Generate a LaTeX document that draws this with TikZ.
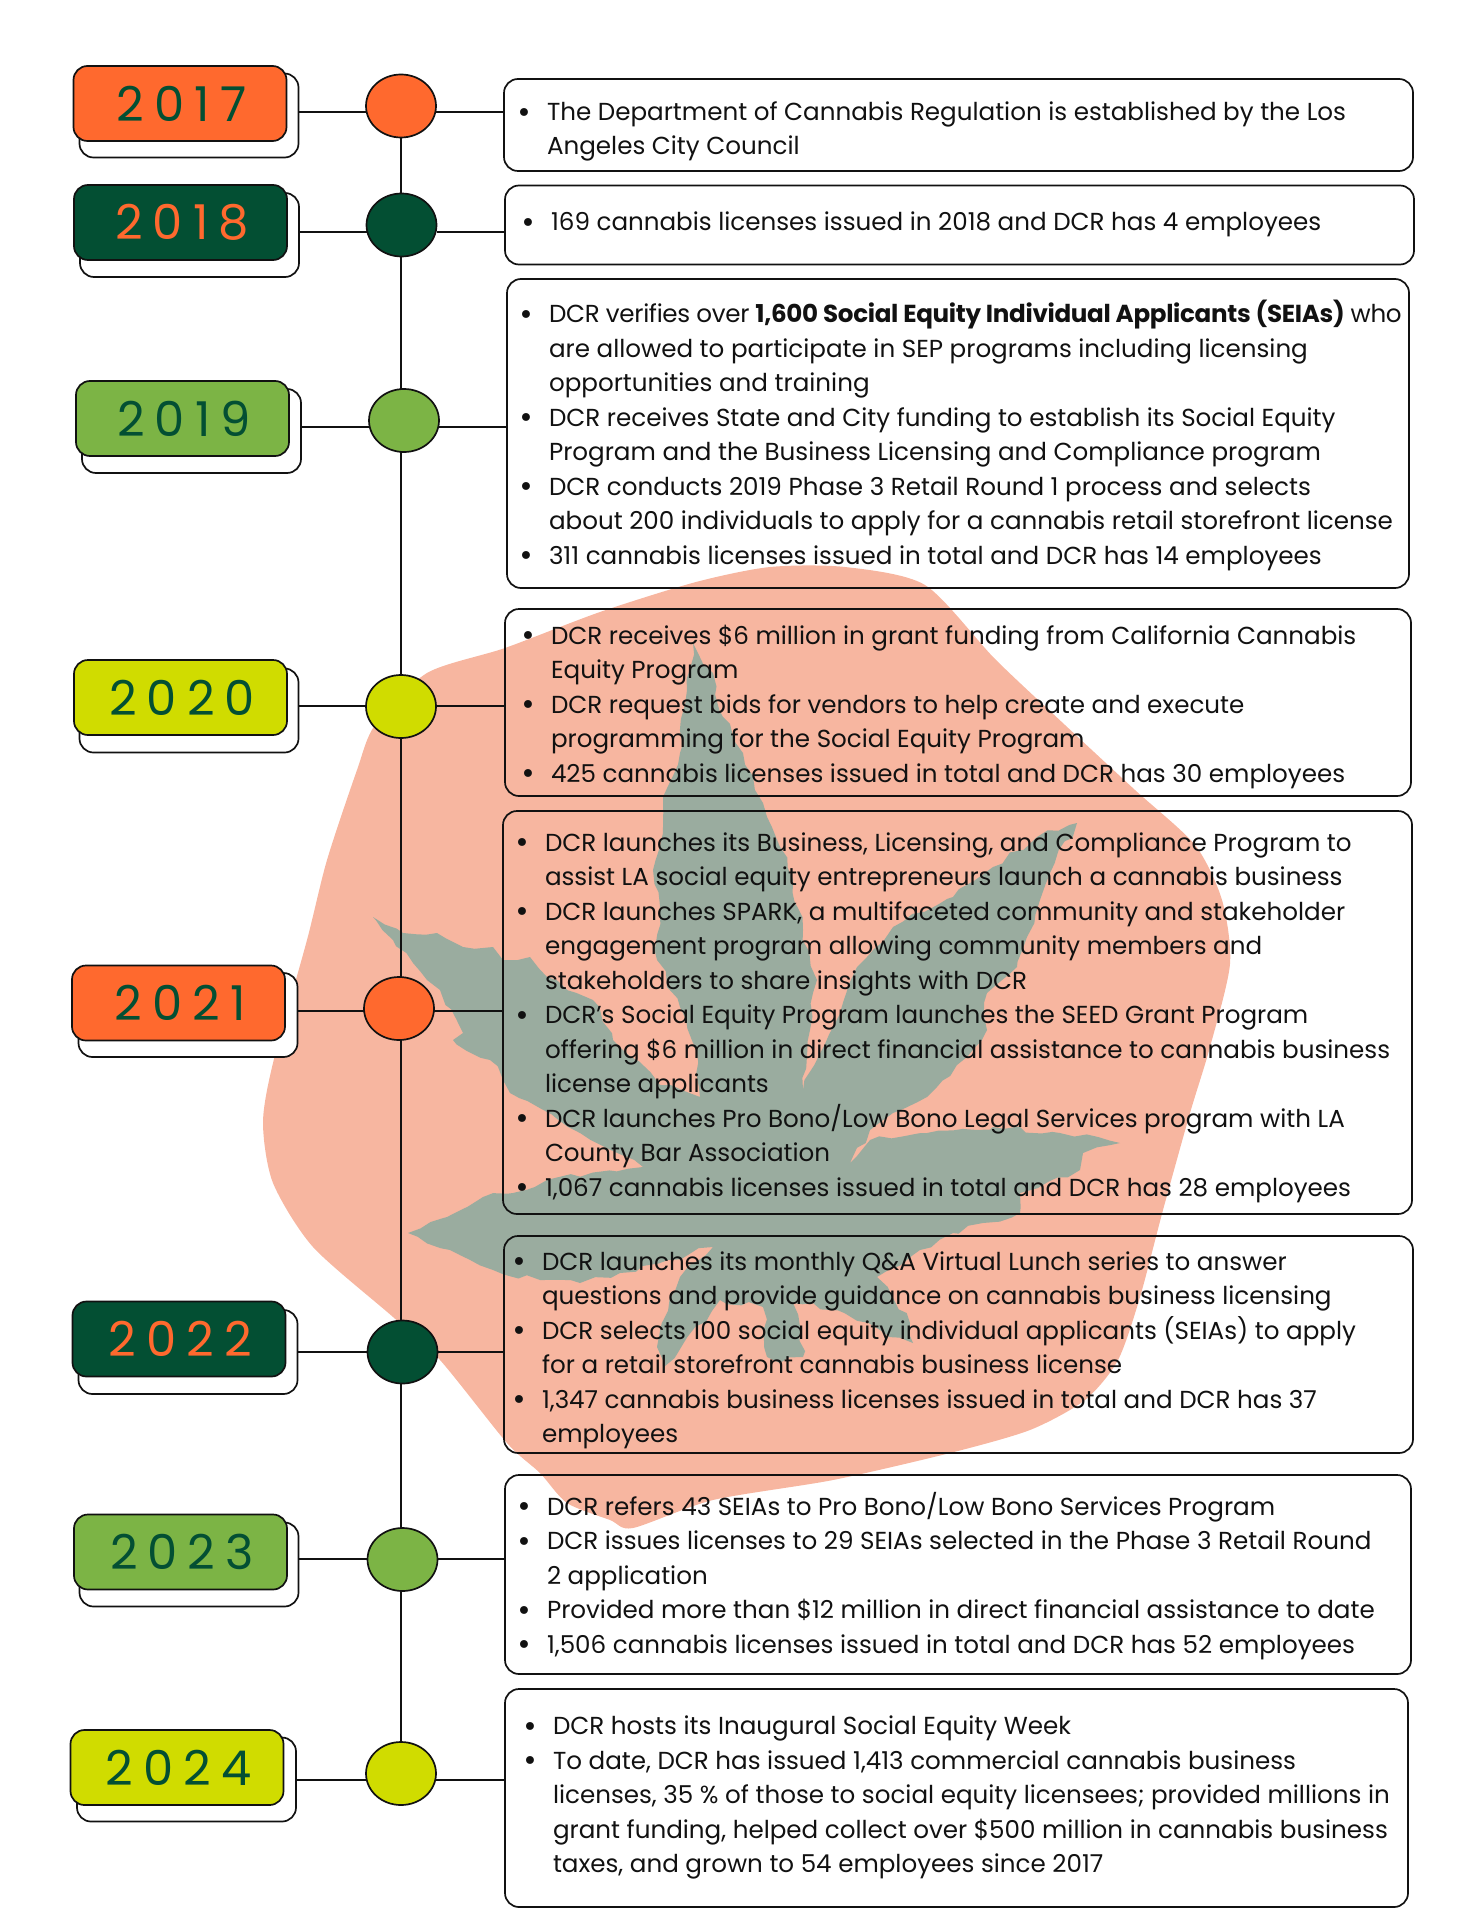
\documentclass[tikz,border=0pt]{standalone}
\usepackage{fontspec}
\usepackage{xcolor}
\usetikzlibrary{shapes.geometric,decorations.pathmorphing}
\setmainfont{Poppins}
\newfontfamily\yearfont[LetterSpace=21]{Poppins}
\newfontfamily\bulletfont{DejaVu Sans}
\definecolor{dcrorange}{HTML}{FF692E}
\definecolor{dcrdark}{HTML}{034F33}
\definecolor{dcrgreen}{HTML}{7CB445}
\definecolor{dcrlime}{HTML}{D0DC00}
\definecolor{dcrblob}{HTML}{F7B6A0}
\definecolor{dcrleaf}{HTML}{9AAC9F}
\definecolor{dcrink}{HTML}{111111}
\newcommand{\blt}{\rule{0pt}{10pt}\llap{\raisebox{-0.8pt}{\bulletfont\fontsize{13.5}{13.5}\selectfont •}\hspace{7.5pt}}}
\tikzset{
  yeartag/.style={draw=dcrink, line width=0.85pt, rounded corners=7pt, inner sep=0pt, outer sep=0pt,
    minimum width=106.5pt, minimum height=37.5pt, font=\yearfont\fontsize{24}{24}\selectfont,
    execute at begin node=\hspace{1.5pt}},
  yearback/.style={draw=dcrink, line width=0.85pt, fill=white, rounded corners=7pt, inner sep=0pt, outer sep=0pt,
    minimum width=109.5pt, minimum height=42pt},
  yeardot/.style={draw=dcrink, line width=0.85pt, ellipse, inner sep=0pt, outer sep=0pt,
    minimum width=35pt, minimum height=31.5pt},
  infobox/.style={draw=dcrink, line width=0.85pt, rounded corners=7pt, inner sep=0pt, outer sep=0pt},
  infotext/.style={anchor=north west, align=left, inner sep=0pt, outer sep=0pt, text=dcrink,
    font=\fontsize{12.3}{17.25}\selectfont},
  link/.style={draw=dcrink, line width=0.85pt}
}
\begin{document}
\begin{tikzpicture}[x=0.5pt, y=-0.5pt]
  \useasboundingbox (0,0) rectangle (1483,1920);

  % blob and leaf
  \fill[dcrblob] plot[smooth cycle, tension=0.45] coordinates {
    (770,567) (845,567) (925,585) (995,659) (1065,725) (1135,790) (1195,845) (1222,900) (1230,964)
    (1210,1047) (1190,1113) (1163,1210) (1140,1297) (1118,1360) (1085,1400) (1030,1430) (950,1453) (833,1480)
    (713,1500) (633,1528) (610,1520) (567,1503) (540,1473) (507,1443) (440,1360) (393,1317) (313,1247) (273,1183)
    (263,1123) (273,1063) (307,940) (327,860) (357,770) (375,725) (427,673) (505,648) (600,612) (696,582)};
  \pgfmathsetseed{17}
  \fill[dcrleaf, decorate, decoration={random steps, segment length=6pt, amplitude=1.6pt}]
    (693,643) -- (713,673) -- (723,717) -- (743,753) -- (763,803) -- (780,847) -- (793,880) -- (803,930)
    -- (817,980) -- (810,1030) -- (803,1090) -- (833,1027) -- (857,967) -- (893,927) -- (953,897) -- (993,867)
    -- (1037,837) -- (1077,823) -- (1050,873) -- (1040,900) -- (1027,937) -- (1017,967) -- (987,993) -- (987,1030)
    -- (967,1057) -- (937,1087) -- (927,1097) -- (893,1113) -- (870,1130) -- (850,1163) -- (870,1140) -- (927,1133)
    -- (993,1127) -- (1060,1133) -- (1120,1143) -- (1083,1153) -- (1080,1170) -- (1020,1193) -- (1020,1213) -- (983,1223)
    -- (953,1233) -- (920,1250) -- (877,1277) -- (910,1323) -- (913,1343) -- (880,1330) -- (813,1303) -- (793,1303)
    -- (803,1357) -- (780,1363) -- (767,1357) -- (763,1307) -- (720,1300) -- (663,1373) -- (657,1347) -- (680,1277)
    -- (713,1247) -- (620,1273) -- (580,1283) -- (540,1280) -- (493,1270) -- (450,1250) -- (408,1233) -- (447,1217)
    -- (483,1197) -- (513,1193) -- (547,1180) -- (643,1167) -- (580,1133) -- (510,1093) -- (503,1080) -- (490,1060)
    -- (453,1040) -- (463,1033) -- (440,990) -- (427,980) -- (413,963) -- (393,940) -- (373,917) -- (403,933)
    -- (437,933) -- (463,947) -- (493,947) -- (503,960) -- (530,957) -- (547,977) -- (593,1000) -- (613,1040)
    -- (660,1085) -- (700,1097) -- (693,1043) -- (680,1007) -- (657,960) -- (660,917) -- (653,870) -- (663,827)
    -- (663,797) -- (680,753) -- (687,690) -- cycle;

  % year tags
  \node[yearback] (back17) at (189,115.5) {};
  \node[yearback] (back18) at (189.5,235) {};
  \node[yearback] (back19) at (191.5,431) {};
  \node[yearback] (back20) at (189,710.5) {};
  \node[yearback] (back21) at (188,1015) {};
  \node[yearback] (back22) at (188,1352) {};
  \node[yearback] (back23) at (189,1564.5) {};
  \node[yearback] (back24) at (186.5,1779.5) {};
  \node[yeartag, fill=dcrorange, text=dcrdark] (tag17) at (180,103.5) {2017};
  \node[yeartag, fill=dcrdark, text=dcrorange] (tag18) at (180.5,222.5) {2018};
  \node[yeartag, fill=dcrgreen, text=dcrdark] (tag19) at (182.5,418.5) {2019};
  \node[yeartag, fill=dcrlime, text=dcrdark] (tag20) at (180.5,697.5) {2020};
  \node[yeartag, fill=dcrorange, text=dcrdark] (tag21) at (178.5,1003) {2021};
  \node[yeartag, fill=dcrdark, text=dcrorange] (tag22) at (179,1339) {2022};
  \node[yeartag, fill=dcrgreen, text=dcrdark] (tag23) at (180.5,1552) {2023};
  \node[yeartag, fill=dcrlime, text=dcrdark] (tag24) at (177,1767.5) {2024};

  % text boxes
  \node[infobox, minimum width=454.5pt, minimum height=46pt] (box17) at (958.5,125) {};
  \node[infobox, minimum width=454.5pt, minimum height=39.5pt] (box18) at (959.5,225) {};
  \node[infobox, minimum width=451pt, minimum height=154.5pt] (box19) at (958,433.5) {};
  \node[infobox, minimum width=453pt, minimum height=93.5pt] (box20) at (958,702.5) {};
  \node[infobox, minimum width=454.5pt, minimum height=201.5pt] (box21) at (957.5,1012.5) {};
  \node[infobox, minimum width=454.5pt, minimum height=108.5pt] (box22) at (958.5,1344.5) {};
  \node[infobox, minimum width=453pt, minimum height=99.5pt] (box23) at (958,1574.5) {};
  \node[infobox, minimum width=451.5pt, minimum height=109pt] (box24) at (956.5,1798) {};

  % link heights
  \coordinate (lnk17) at (400,112);
  \coordinate (lnk18) at (400,232);
  \coordinate (lnk19) at (400,427);
  \coordinate (lnk20) at (400,706);
  \coordinate (lnk21) at (400,1011);
  \coordinate (lnk22) at (400,1352);
  \coordinate (lnk23) at (400,1559);
  \coordinate (lnk24) at (400,1780);

  % timeline
  \coordinate (top) at (401,106);
  \coordinate (bottom) at (401,1773);
  \draw[link] (top) -- (bottom);
  \node[yeardot, fill=dcrorange] (dot17) at (401,106) {};
  \node[yeardot, fill=dcrdark] (dot18) at (401.5,225) {};
  \node[yeardot, fill=dcrgreen] (dot19) at (404,420.5) {};
  \node[yeardot, fill=dcrlime] (dot20) at (401,706.5) {};
  \node[yeardot, fill=dcrorange] (dot21) at (399,1008.5) {};
  \node[yeardot, fill=dcrdark] (dot22) at (402.5,1352) {};
  \node[yeardot, fill=dcrgreen] (dot23) at (402.5,1559.5) {};
  \node[yeardot, fill=dcrlime] (dot24) at (401,1773.5) {};

  \draw[link] (lnk17 -| back17.east) -- (lnk17 -| dot17.west) (lnk17 -| dot17.east) -- (lnk17 -| box17.west);
  \draw[link] (lnk18 -| back18.east) -- (lnk18 -| dot18.west) (lnk18 -| dot18.east) -- (lnk18 -| box18.west);
  \draw[link] (lnk19 -| back19.east) -- (lnk19 -| dot19.west) (lnk19 -| dot19.east) -- (lnk19 -| box19.west);
  \draw[link] (lnk20 -| back20.east) -- (lnk20 -| dot20.west) (lnk20 -| dot20.east) -- (lnk20 -| box20.west);
  \draw[link] (lnk21 -| back21.east) -- (lnk21 -| dot21.west) (lnk21 -| dot21.east) -- (lnk21 -| box21.west);
  \draw[link] (lnk22 -| back22.east) -- (lnk22 -| dot22.west) (lnk22 -| dot22.east) -- (lnk22 -| box22.west);
  \draw[link] (lnk23 -| back23.east) -- (lnk23 -| dot23.west) (lnk23 -| dot23.east) -- (lnk23 -| box23.west);
  \draw[link] (lnk24 -| back24.east) -- (lnk24 -| dot24.west) (lnk24 -| dot24.east) -- (lnk24 -| box24.west);

  % texts
  \node[infotext] (text17) at (547,100.5) {\blt The Department of Cannabis Regulation is established by the Los\\
    Angeles City Council};
  \node[infotext] (text18) at (551,210.6) {\blt 169 cannabis licenses issued in 2018 and DCR has 4 employees};
  \node[infotext] (text19) at (549,300.3) {\blt {\addfontfeature{LetterSpace=-1.3}DCR verifies over \textbf{1,600 Social Equity Individual Applicants (SEIAs)} who}\\
    are allowed to participate in SEP programs including licensing\\
    opportunities and training\\
    \blt DCR receives State and City funding to establish its Social Equity\\
    Program and the Business Licensing and Compliance program\\
    \blt DCR conducts 2019 Phase 3 Retail Round 1 process and selects\\
    about 200 individuals to apply for a cannabis retail storefront license\\
    \blt 311 cannabis licenses issued in total and DCR has 14 employees};
  \node[infotext] (text20) at (551,624) {\blt DCR receives \$6 million in grant funding from California Cannabis\\
    Equity Program\\
    \blt DCR request bids for vendors to help create and execute\\
    programming for the Social Equity Program\\
    \blt 425 cannabis licenses issued in total and DCR has 30 employees};
  \node[infotext] (text21) at (545,831) {\blt DCR launches its Business, Licensing, and Compliance Program to\\
    assist LA social equity entrepreneurs launch a cannabis business\\
    \blt DCR launches SPARK, a multifaceted community and stakeholder\\
    engagement program allowing community members and\\
    stakeholders to share insights with DCR\\
    \blt DCR’s Social Equity Program launches the SEED Grant Program\\
    offering \$6 million in direct financial assistance to cannabis business\\
    license applicants\\
    \blt DCR launches Pro Bono/Low Bono Legal Services program with LA\\
    County Bar Association\\
    \blt 1,067 cannabis licenses issued in total and DCR has 28 employees};
  \node[infotext] (text22) at (542,1250) {\blt DCR launches its monthly Q\&A Virtual Lunch series to answer\\
    questions and provide guidance on cannabis business licensing\\
    \blt DCR selects 100 social equity individual applicants (SEIAs) to apply\\
    for a retail storefront cannabis business license\\
    \blt 1,347 cannabis business licenses issued in total and DCR has 37\\
    employees};
  \node[infotext] (text23) at (547,1492) {\blt DCR refers 43 SEIAs to Pro Bono/Low Bono Services Program\\
    \blt DCR issues licenses to 29 SEIAs selected in the Phase 3 Retail Round\\
    2 application\\
    \blt Provided more than \$12 million in direct financial assistance to date\\
    \blt 1,506 cannabis licenses issued in total and DCR has 52 employees};
  \node[infotext] (text24) at (553,1714.5) {\blt DCR hosts its Inaugural Social Equity Week\\
    \blt To date, DCR has issued 1,413 commercial cannabis business\\
    licenses, 35 \% of those to social equity licensees; provided millions in\\
    grant funding, helped collect over \$500 million in cannabis business\\
    taxes, and grown to 54 employees since 2017};
\end{tikzpicture}
\end{document}
